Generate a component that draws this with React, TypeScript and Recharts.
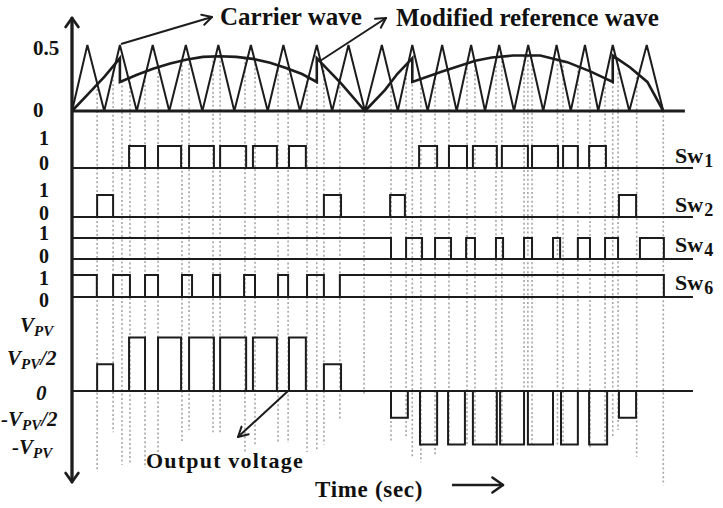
import React from "react";
import { ComposedChart, Line, XAxis, YAxis, ReferenceLine, ReferenceDot } from "recharts";

const W = 723;
const H = 508;
const FONT = "'Liberation Serif', 'Times New Roman', serif";
const INK = "#1c1c1c";

// time axis in ms (one full cycle = 20 ms)
const carrierT = [0, 0.52, 1.09, 1.62, 2.19, 2.73, 3.29, 3.85, 4.41, 4.95, 5.49, 6.05, 6.62, 7.15, 7.71, 8.28, 8.8, 9.35, 9.91, 10.48, 11.02, 11.51, 12.03, 12.52, 13.01, 13.5, 13.97, 14.45, 14.95, 15.43, 15.94, 16.39, 16.87, 17.35, 17.8, 18.29, 18.85, 19.44, 20.0];
const carrierV = [0, 0.5, 0, 0.5, 0, 0.5, 0, 0.5, 0, 0.5, 0, 0.5, 0, 0.5, 0, 0.5, 0, 0.5, 0, 0.5, 0, 0.5, 0, 0.5, 0, 0.5, 0, 0.5, 0, 0.5, 0, 0.5, 0, 0.5, 0, 0.5, 0, 0.5, 0];

const refT = [0, 0.55, 1.1, 1.62, 1.62, 2.2, 2.74, 3.32, 3.89, 4.43, 4.97, 5.55, 6.12, 6.7, 7.24, 7.78, 8.28, 8.28, 9.1, 9.91, 10.59, 11.0, 11.51, 11.51, 12.52, 13.64, 14.2, 14.92, 15.84, 16.75, 17.53, 18.29, 18.29, 18.88, 19.46, 20.0];
const refV = [0, 0.13, 0.26, 0.4, 0.22, 0.275, 0.32, 0.36, 0.39, 0.41, 0.415, 0.41, 0.395, 0.365, 0.325, 0.28, 0.22, 0.4, 0.21, 0, 0.16, 0.28, 0.4, 0.22, 0.3, 0.38, 0.405, 0.42, 0.42, 0.37, 0.3, 0.22, 0.42, 0.33, 0.22, 0];

// switch pulses [on, off]
const sw1Pulses = [[1.93, 2.47], [2.91, 3.69], [3.96, 4.8], [5.01, 5.89], [6.12, 6.93], [7.34, 7.91], [11.74, 12.35], [12.75, 13.36], [13.56, 14.37], [14.54, 15.42], [15.56, 16.44], [16.61, 17.11], [17.49, 18.06]];
const sw2Pulses = [[0.85, 1.39], [8.52, 9.1], [10.76, 11.26], [18.5, 19.08]];
const sw4Pulses = [[0, 10.79], [11.3, 11.84], [12.28, 12.82], [13.33, 13.63], [14.34, 14.58], [15.29, 15.56], [16.27, 16.51], [17.11, 17.52], [18.03, 18.47], [19.21, 20.02]];
const sw6Pulses = [[0, 0.84], [1.39, 1.96], [2.47, 2.91], [3.72, 4.06], [4.77, 5.01], [5.82, 6.19], [6.97, 7.31], [7.95, 8.52], [9.06, 20.02]];

// output voltage pulses [start, end, level in V_PV]
const outPulses = [[0.85, 1.39, 0.5], [1.93, 2.47, 1], [2.91, 3.69, 1], [3.96, 4.8, 1], [5.01, 5.89, 1], [6.12, 6.93, 1], [7.34, 7.91, 1], [8.52, 9.1, 0.5], [10.79, 11.36, -0.5], [11.77, 12.35, -1], [12.72, 13.29, -1], [13.56, 14.37, -1], [14.48, 15.29, -1], [15.42, 16.27, -1], [16.54, 17.11, -1], [17.49, 18.1, -1], [18.5, 19.08, -0.5]];

// dotted guides: time and lower end (in V_PV)
const guideT = [0.85, 1.39, 1.69, 1.96, 2.47, 2.91, 3.72, 3.96, 4.77, 5.01, 5.85, 6.19, 6.97, 7.31, 7.95, 8.28, 8.52, 9.06, 9.88, 10.79, 11.3, 11.51, 11.8, 12.28, 12.75, 13.36, 13.63, 14.34, 14.54, 15.29, 15.42, 15.56, 16.42, 16.61, 17.11, 17.52, 18.03, 18.29, 18.47, 19.1, 20.0];
const guideEnd = [-1.48, -0.77, -1.38, -1.38, -1.44, -1.14, -0.97, -0.73, -0.77, -0.77, -1.16, -1.0, -0.97, -0.97, -1.14, -1.1, -1.0, -0.54, -0.07, -0.95, -0.86, -1.25, -1.33, -1.2, -1.0, -1.0, -1.0, -1.0, -1.0, -1.0, -1.0, -1.0, -1.0, -1.0, -0.92, -1.07, -1.0, -0.86, -0.73, -1.23, -1.76];

const T_END = 21.0;

// panel placement: pixel row of value 0 and pixels per unit
type Panel = { y0: number; s: number };
const P: Record<string, Panel> = {
  carrier: { y0: 111, s: 132 },
  sw1: { y0: 168, s: 22 },
  sw2: { y0: 217, s: 22 },
  sw4: { y0: 259, s: 21 },
  sw6: { y0: 297, s: 22 },
  out: { y0: 391, s: 53.5 },
};
const domainOf = (p: Panel): [number, number] => {
  const hi = p.y0 / p.s;
  return [hi - H / p.s, hi];
};
const tScale = 29.565;
const tLo = -72 / tScale;
const tDomain: [number, number] = [tLo, tLo + W / tScale];

// annotation helpers: page pixel -> (t, out) axis values
const ax = (x: number) => (x - 72) / tScale;
const ay = (y: number) => (P.out.y0 - y) / P.out.s;

const zip = (ts: number[], vs: number[]) => ts.map((t, i) => ({ t, v: vs[i] }));
const steps = (pulses: number[][]) => {
  const pts = [{ t: 0, v: 0 }];
  pulses.forEach(([a, b, lvl = 1]) => {
    pts.push({ t: a, v: 0 }, { t: a, v: lvl }, { t: b, v: lvl }, { t: b, v: 0 });
  });
  pts.push({ t: T_END, v: 0 });
  return pts;
};
const refAt = (t: number) => {
  for (let i = 1; i < refT.length; i++) {
    if (t <= refT[i] && refT[i] > refT[i - 1]) {
      const f = (t - refT[i - 1]) / (refT[i] - refT[i - 1]);
      return refV[i - 1] + f * (refV[i] - refV[i - 1]);
    }
  }
  return 0;
};
const carrierToOut = (v: number) => ay(P.carrier.y0 - v * P.carrier.s);

const carrierData = zip(carrierT, carrierV);
const refData = zip(refT, refV);

type Pt = [number, number];
const arrowArms = (tail: Pt, tip: Pt, len: number, ang: number): Pt[] => {
  const a = Math.atan2(tip[1] - tail[1], tip[0] - tail[0]);
  return [a + Math.PI - ang, a + Math.PI + ang].map((b) => [tip[0] + len * Math.cos(b), tip[1] + len * Math.sin(b)] as Pt);
};

const arrows: { tail: Pt; tip: Pt; len: number; ang: number; w: number }[] = [
  { tail: [72, 482], tip: [72, 18], len: 11, ang: 0.62, w: 2.8 },
  { tail: [72, 18], tip: [72, 482], len: 11, ang: 0.62, w: 2.8 },
  { tail: [121, 44], tip: [212, 17], len: 11, ang: 0.5, w: 2 },
  { tail: [320, 61], tip: [386, 18], len: 11, ang: 0.5, w: 2 },
  { tail: [288, 391], tip: [238, 437], len: 11, ang: 0.5, w: 2 },
  { tail: [452, 485], tip: [503, 485], len: 13, ang: 0.62, w: 2.5 },
];

const swLabels = [
  { x: 675, y: 163, sub: "1" },
  { x: 675, y: 212, sub: "2" },
  { x: 675, y: 252, sub: "4" },
  { x: 675, y: 290, sub: "6" },
];

const notes = [
  { x: 220, y: 25, text: "Carrier wave", size: 25, ls: 0 },
  { x: 396, y: 26, text: "Modified reference wave", size: 25, ls: 0 },
  { x: 146, y: 468, text: "Output voltage", size: 22, ls: 1.2 },
  { x: 315, y: 497, text: "Time (sec)", size: 23, ls: 0.7 },
];

const swTick = (off: Record<string, number>) => (p: any) => (
  <text x={44} y={p.y + off[String(p.payload.value)]} textAnchor="middle" fontFamily={FONT} fontWeight="bold" fontSize={20} fill="#111">
    {p.payload.value}
  </text>
);

const carrierTick = (p: any) => (
  <text x={33} y={p.y + (p.payload.value > 0 ? 10 : 6)} fontFamily={FONT} fontWeight="bold" fontSize={21} fill="#111">
    {p.payload.value}
  </text>
);

const outTickPos: Record<string, { x: number; dy: number }> = {
  "1": { x: 20, dy: -6 },
  "0.5": { x: 7, dy: 1 },
  "0": { x: 36, dy: 9 },
  "-0.5": { x: 1, dy: 8 },
  "-1": { x: 12, dy: 9 },
};
const outTick = (p: any) => {
  const v = p.payload.value as number;
  const pos = outTickPos[String(v)];
  const common = { fontFamily: FONT, fontWeight: "bold" as const, fontStyle: "italic" as const, fill: "#111" };
  if (v === 0)
    return (
      <text x={pos.x} y={p.y + pos.dy} fontSize={21} {...common}>
        0
      </text>
    );
  return (
    <text x={pos.x} y={p.y + pos.dy} fontSize={21} {...common}>
      {v < 0 ? "-V" : "V"}
      <tspan fontSize={15} dy={4}>PV</tspan>
      {Math.abs(v) === 0.5 ? <tspan dy={-4} fontSize={21}>/2</tspan> : null}
    </text>
  );
};

const axisProps = { type: "number" as const, allowDataOverflow: true, mirror: true, width: 60, axisLine: false, tickLine: false, interval: 0 as const };

export default function App() {
  const lineProps = { type: "linear" as const, dot: false, activeDot: false, isAnimationActive: false, dataKey: "v", xAxisId: "t", stroke: INK };
  return (
    <div style={{ position: "absolute", left: 0, top: 0, width: W, height: H, background: "#fff" }}>
      <ComposedChart width={W} height={H} margin={{ top: 0, right: 0, bottom: 0, left: 0 }}>
        <XAxis xAxisId="t" dataKey="t" type="number" domain={tDomain} allowDataOverflow hide />
        <YAxis yAxisId="carrier" {...axisProps} domain={domainOf(P.carrier)} ticks={[0, 0.5]} tick={carrierTick} />
        <YAxis yAxisId="sw1" {...axisProps} domain={domainOf(P.sw1)} ticks={[0, 1]} tick={swTick({ "1": -1, "0": 2 })} />
        <YAxis yAxisId="sw2" {...axisProps} domain={domainOf(P.sw2)} ticks={[0, 1]} tick={swTick({ "1": 2, "0": 3 })} />
        <YAxis yAxisId="sw4" {...axisProps} domain={domainOf(P.sw4)} ticks={[0, 1]} tick={swTick({ "1": 2, "0": 4 })} />
        <YAxis yAxisId="sw6" {...axisProps} domain={domainOf(P.sw6)} ticks={[0, 1]} tick={swTick({ "1": 10, "0": 10 })} />
        <YAxis yAxisId="out" {...axisProps} domain={domainOf(P.out)} ticks={[-1, -0.5, 0, 0.5, 1]} tick={outTick} />

        {guideT.map((t, i) => (
          <ReferenceLine
            key={"g" + i}
            xAxisId="t"
            yAxisId="out"
            segment={[{ x: t, y: carrierToOut(refAt(t)) }, { x: t, y: guideEnd[i] }]}
            stroke="#a6a6a6"
            strokeWidth={1.6}
            strokeDasharray="2 2.4"
            ifOverflow="visible"
          />
        ))}

        <ReferenceLine xAxisId="t" yAxisId="carrier" segment={[{ x: 0, y: 0 }, { x: 20.73, y: 0 }]} stroke={INK} strokeWidth={3} ifOverflow="visible" />
        {(["sw1", "sw2", "sw4", "sw6", "out"] as const).map((id) => (
          <ReferenceLine key={id} xAxisId="t" yAxisId={id} segment={[{ x: 0, y: 0 }, { x: T_END, y: 0 }]} stroke={INK} strokeWidth={2} ifOverflow="visible" />
        ))}

        <Line {...lineProps} yAxisId="carrier" data={carrierData} strokeWidth={2} />
        <Line {...lineProps} yAxisId="carrier" data={refData} strokeWidth={2.6} />
        <Line {...lineProps} yAxisId="sw1" data={steps(sw1Pulses)} strokeWidth={2} />
        <Line {...lineProps} yAxisId="sw2" data={steps(sw2Pulses)} strokeWidth={2} />
        <Line {...lineProps} yAxisId="sw4" data={steps(sw4Pulses)} strokeWidth={2} />
        <Line {...lineProps} yAxisId="sw6" data={steps(sw6Pulses)} strokeWidth={2} />
        <Line {...lineProps} yAxisId="out" data={steps(outPulses)} strokeWidth={2} />

        {arrows.map((a, i) => (
          <ReferenceLine key={"a" + i} xAxisId="t" yAxisId="out" segment={[{ x: ax(a.tail[0]), y: ay(a.tail[1]) }, { x: ax(a.tip[0]), y: ay(a.tip[1]) }]} stroke={INK} strokeWidth={a.w} ifOverflow="visible" />
        ))}
        {arrows.flatMap((a, i) =>
          arrowArms(a.tail, a.tip, a.len, a.ang).map((arm, j) => (
            <ReferenceLine key={"h" + i + "-" + j} xAxisId="t" yAxisId="out" segment={[{ x: ax(arm[0]), y: ay(arm[1]) }, { x: ax(a.tip[0]), y: ay(a.tip[1]) }]} stroke={INK} strokeWidth={a.w} strokeLinecap="round" ifOverflow="visible" />
          ))
        )}

        {notes.map((n, i) => (
          <ReferenceDot
            key={"n" + i}
            xAxisId="t"
            yAxisId="out"
            x={ax(n.x)}
            y={ay(n.y)}
            r={0}
            ifOverflow="visible"
            shape={(p: any) => (
              <text x={p.cx} y={p.cy} fontFamily={FONT} fontWeight="bold" fontSize={n.size} letterSpacing={n.ls} fill="#111">
                {n.text}
              </text>
            )}
          />
        ))}
        {swLabels.map((s, i) => (
          <ReferenceDot
            key={"s" + i}
            xAxisId="t"
            yAxisId="out"
            x={ax(s.x)}
            y={ay(s.y)}
            r={0}
            ifOverflow="visible"
            shape={(p: any) => (
              <text x={p.cx} y={p.cy} fontFamily={FONT} fontWeight="bold" fontSize={22} fill="#111">
                Sw<tspan fontSize={18} dy={4} dx={1}>{s.sub}</tspan>
              </text>
            )}
          />
        ))}
      </ComposedChart>
    </div>
  );
}
